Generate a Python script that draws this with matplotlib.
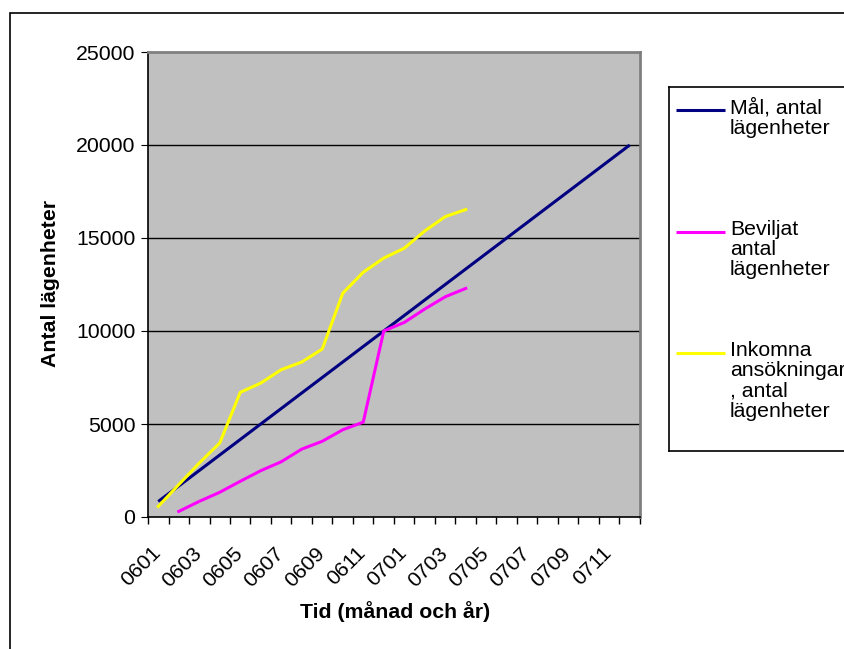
import matplotlib
matplotlib.use("Agg")
import matplotlib.pyplot as plt
from matplotlib.patches import Rectangle
from matplotlib.transforms import ScaledTranslation

plt.rcParams['font.family'] = ['Liberation Sans', 'DejaVu Sans']

# months 0601..0712
months = ['0601', '0602', '0603', '0604', '0605', '0606', '0607', '0608',
          '0609', '0610', '0611', '0612', '0701', '0702', '0703', '0704',
          '0705', '0706', '0707', '0708', '0709', '0710', '0711', '0712']

# target (Mål), one value per month
mal = [833, 1667, 2500, 3333, 4167, 5000, 5833, 6667, 7500, 8333, 9167, 10000,
       10833, 11667, 12500, 13333, 14167, 15000, 15833, 16667, 17500, 18333,
       19167, 20000]

# granted (Beviljat), 0602..0704
beviljat = [300, 840, 1330, 1920, 2490, 2970, 3650, 4070, 4690, 5100,
            10000, 10460, 11180, 11840, 12290]

# received applications (Inkomna), 0601..0704
inkomna = [570, 1740, 2900, 3980, 6700, 7200, 7920, 8330, 9030, 12030,
           13160, 13920, 14450, 15380, 16150, 16530]

labels = ['Mål, antal\nlägenheter', 'Beviljat\nantal\nlägenheter',
          'Inkomna\nansökningar\n, antal\nlägenheter']
colors = ['#000080', '#FF00FF', '#FFFF00']
fs = 15.3

fig = plt.figure(figsize=(8.45, 6.49), dpi=100)

# outer chart border (runs off right/bottom edge like the original)
fig.patches.append(Rectangle((10 / 845, -0.05), 1.0, (649 - 13) / 649 + 0.05,
                             transform=fig.transFigure, fill=False,
                             edgecolor='black', linewidth=1.2))

ax = fig.add_axes([148 / 845, (649 - 517) / 649, 492 / 845, 465 / 649])
ax.set_facecolor('#C0C0C0')

x_all = list(range(len(months)))
ax.plot(x_all, mal, color=colors[0], lw=2.2, solid_capstyle='butt')
ax.plot(x_all[1:1 + len(beviljat)], beviljat, color=colors[1], lw=2.2)
ax.plot(x_all[:len(inkomna)], inkomna, color=colors[2], lw=2.2)

ax.set_xlim(-0.5, len(months) - 0.5)
ax.set_ylim(0, 25000)

for yv in [5000, 10000, 15000, 20000]:
    ax.axhline(yv, color='black', lw=1.0, zorder=0.5)

ax.set_yticks([0, 5000, 10000, 15000, 20000, 25000])
ax.set_yticklabels(['0', '5000', '10000', '15000', '20000', '25000'])
ax.set_xticks([i - 0.5 for i in range(len(months) + 1)])
ax.set_xticklabels([])
ax.set_xticks(x_all[::2], minor=True)
ax.set_xticklabels(months[::2], minor=True, rotation=45, ha='right',
                   va='top', rotation_mode='anchor')
ax.tick_params(axis='x', which='minor', length=0, pad=19, labelsize=fs)
ax.tick_params(axis='x', which='major', length=5, direction='out', width=1)
ax.tick_params(axis='y', length=5, direction='out', labelsize=fs, pad=4)
shift = ScaledTranslation(-7 / 100, 0, fig.dpi_scale_trans)
for t in ax.xaxis.get_minorticklabels():
    t.set_transform(t.get_transform() + shift)

for s in ['left', 'bottom']:
    ax.spines[s].set_color('black')
    ax.spines[s].set_linewidth(1.2)
for s in ['top', 'right']:
    ax.spines[s].set_color('#808080')
    ax.spines[s].set_linewidth(2)

fig.text(395 / 845, 1 - 612 / 649, 'Tid (månad och år)', ha='center',
         va='center', fontsize=fs, fontweight='bold')
fig.text(51 / 845, 1 - 283 / 649, 'Antal lägenheter', ha='center',
         va='center', rotation=90, fontsize=fs, fontweight='bold')

# legend box in pixel coordinates
lg = fig.add_axes([669 / 845, (649 - 451) / 649, 0.3, (451 - 87) / 649])
lg.set_xlim(0, 0.3 * 845)
lg.set_ylim(451 - 87, 0)
lg.set_xticks([])
lg.set_yticks([])
for s in lg.spines.values():
    s.set_color('black')
    s.set_linewidth(1.2)
entry_y = [23, 145, 266]
for ey, lab, c in zip(entry_y, labels, colors):
    lg.plot([7, 56], [ey, ey], color=c, lw=2.2, solid_capstyle='butt')
    lg.text(61, ey - 12, lab, ha='left', va='top', fontsize=fs,
            linespacing=1.08)

fig.savefig('out.png', dpi=100)
